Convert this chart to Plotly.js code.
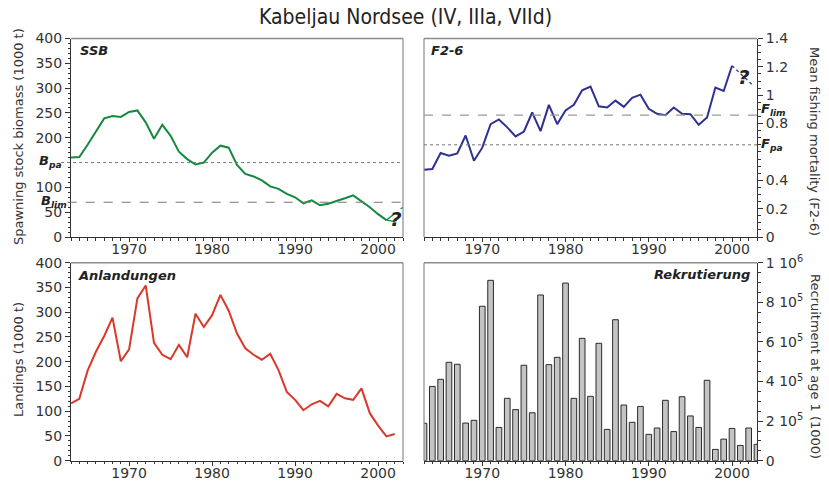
<!DOCTYPE html>
<html>
<head>
<meta charset="utf-8">
<script src="https://cdn.plot.ly/plotly-3.0.1.min.js"></script>
<style>html,body{margin:0;padding:0;background:#fff;}#chart{width:829px;height:482px;}</style>
</head>
<body>
<div id="chart"></div>
<script>
// ---------- DATA ----------
const ssbYears = [1963,1964,1965,1966,1967,1968,1969,1970,1971,1972,1973,1974,1975,1976,1977,1978,1979,1980,1981,1982,1983,1984,1985,1986,1987,1988,1989,1990,1991,1992,1993,1994,1995,1996,1997,1998,1999,2000,2001];
const ssbValues = [160,161,186,213,239,244,242,252,255,231,198,226,204,172,157,146,150,170,184,180,145,127,122,114,102,97,87,80,68,74,64,67,72,78,84,72,60,46,34];
const ssbProjYears = [2001,2003];
const ssbProjHigh = [34,60];
const ssbProjLow = [34,28];
const bpa = 150, blim = 70;

const fYears = [1963,1964,1965,1966,1967,1968,1969,1970,1971,1972,1973,1974,1975,1976,1977,1978,1979,1980,1981,1982,1983,1984,1985,1986,1987,1988,1989,1990,1991,1992,1993,1994,1995,1996,1997,1998,1999,2000];
const fValues = [0.475,0.48,0.592,0.574,0.59,0.716,0.538,0.63,0.796,0.829,0.773,0.709,0.744,0.878,0.747,0.932,0.796,0.892,0.932,1.035,1.061,0.922,0.913,0.962,0.918,0.981,1.004,0.904,0.869,0.859,0.913,0.869,0.866,0.791,0.843,1.054,1.03,1.208];
const fProjYears = [2000,2002.6];
const fProjValues = [1.208,1.065];
const flim = 0.86, fpa = 0.65;

const landYears = [1963,1964,1965,1966,1967,1968,1969,1970,1971,1972,1973,1974,1975,1976,1977,1978,1979,1980,1981,1982,1983,1984,1985,1986,1987,1988,1989,1990,1991,1992,1993,1994,1995,1996,1997,1998,1999,2000,2001,2002];
const landValues = [116,125,182,220,252,289,201,225,328,354,238,214,205,234,209,297,270,294,335,303,257,227,214,204,216,183,139,123,102,114,121,110,135,126,123,146,96,71,49,54];

const recYears = [1963,1964,1965,1966,1967,1968,1969,1970,1971,1972,1973,1974,1975,1976,1977,1978,1979,1980,1981,1982,1983,1984,1985,1986,1987,1988,1989,1990,1991,1992,1993,1994,1995,1996,1997,1998,1999,2000,2001,2002,2003];
const recValues = [189000,375000,411000,497000,487000,190000,204000,780000,911000,168000,315000,258000,482000,242000,837000,485000,522000,897000,315000,618000,325000,593000,158000,712000,281000,194000,274000,133000,165000,305000,147000,323000,226000,168000,406000,57000,109000,163000,77000,165000,83000];

const recTickVals = [0,200000,400000,600000,800000,1000000];
const recTickText = ['0','2 10<sup>5</sup>','4 10<sup>5</sup>','6 10<sup>5</sup>','8 10<sup>5</sup>','1 10<sup>6</sup>'];
const ssbTickVals = [0,50,100,200,250,300,350,400];
const landTickVals = [0,50,100,150,200,250,300,350,400];
const fTickVals = [0,0.2,0.4,0.8,1,1.2,1.4];
const fTickText = ['0','0.2','0.4','0.8','1','1.2','1.4'];
const xTickVals = [1970,1980,1990,2000];

// ---------- STYLE / LAYOUT ----------
const W = 829, H = 482;
const px = v => v / W, py = v => 1 - v / H;
const axFont = {family:'DejaVu Sans, Verdana, sans-serif', size:14, color:'#333'};
const green = '#14893f', blue = '#2e3192', red = '#d9382b';

function xax(dom) {
  return {domain: dom, range:[1963,2003], showline:true, linecolor:'#333', linewidth:1,
    ticks:'outside', ticklen:4, tickcolor:'#333', tickvals:xTickVals, showgrid:false, zeroline:false,
    ticklabelstandoff:-5,
    tickfont:axFont, minor:{dtick:1, tick0:1963, ticks:'outside', ticklen:2.5, tickcolor:'#333', showgrid:false}};
}
function yax(dom, range, side, tickvals, ticktext, minorD) {
  const a = {domain: dom, range: range, side: side, showline:true, linecolor:'#333', linewidth:1,
    ticks:'outside', ticklen:5, tickcolor:'#333', tickvals:tickvals, showgrid:false, zeroline:false,
    tickfont:axFont, minor:{dtick:minorD, tick0:0, ticks:'outside', ticklen:2.5, tickcolor:'#333', showgrid:false}};
  if (ticktext) a.ticktext = ticktext;
  return a;
}

const xL = [px(71), px(403)], xR = [px(424), px(757)];
const yT = [py(237), py(38.5)], yB = [py(460.7), py(262.7)];

const traces = [
  {x:ssbYears, y:ssbValues, xaxis:'x', yaxis:'y', mode:'lines', line:{color:green, width:2}},
  {x:ssbProjYears, y:ssbProjHigh, xaxis:'x', yaxis:'y', mode:'lines', line:{color:green, width:1.3, dash:'dash'}},
  {x:ssbProjYears, y:ssbProjLow, xaxis:'x', yaxis:'y', mode:'lines', line:{color:green, width:1.3, dash:'dash'}},
  {x:fYears, y:fValues, xaxis:'x2', yaxis:'y2', mode:'lines', line:{color:blue, width:2}},
  {x:fProjYears, y:fProjValues, xaxis:'x2', yaxis:'y2', mode:'lines', line:{color:blue, width:1.3, dash:'dot'}},
  {x:landYears, y:landValues, xaxis:'x3', yaxis:'y3', mode:'lines', line:{color:red, width:2}},
  {x:recYears, y:recValues, xaxis:'x4', yaxis:'y4', type:'bar', width:0.68,
    marker:{color:'#c4c4c4', line:{color:'#2a2a2a', width:1}}}
];

const frame = '#8c8c8c';
function frameShapes(xr, yr, farSide) {
  return [
    {type:'line', xref:xr+' domain', yref:yr+' domain', x0:0, x1:1, y0:1, y1:1, line:{color:frame, width:1.5}},
    {type:'line', xref:xr+' domain', yref:yr+' domain', x0:farSide, x1:farSide, y0:0, y1:1, line:{color:frame, width:1.2}}
  ];
}

const shapes = [].concat(
  frameShapes('x','y',1), frameShapes('x2','y2',0), frameShapes('x3','y3',1), frameShapes('x4','y4',0),
  [
    {type:'line', xref:'x domain', yref:'y', x0:-0.03, x1:1, y0:bpa, y1:bpa, line:{color:'#777', width:1, dash:'dot'}},
    {type:'line', xref:'x domain', yref:'y', x0:-0.01, x1:1, y0:blim, y1:blim, line:{color:'#777', width:1, dash:'dash'}},
    {type:'line', xref:'x2 domain', yref:'y2', x0:0, x1:1.01, y0:flim, y1:flim, line:{color:'#999', width:1.2, dash:'dash'}},
    {type:'line', xref:'x2 domain', yref:'y2', x0:0, x1:1.01, y0:fpa, y1:fpa, line:{color:'#777', width:1, dash:'dot'}}
  ]
);

const lblFont = {family:'DejaVu Sans, Verdana, sans-serif', size:13, color:'#222'};
const refFont = {family:'DejaVu Sans, Verdana, sans-serif', size:13, color:'#222'};
const titleFont = {family:'DejaVu Sans, Verdana, sans-serif', size:13, color:'#333'};
function ann(o) { return Object.assign({showarrow:false, xanchor:'center', yanchor:'middle'}, o); }
const annotations = [
  ann({text:'Kabeljau Nordsee (IV, IIIa, VIId)', xref:'paper', yref:'paper', x:px(405), y:py(17),
    font:{family:'Liberation Sans Narrow, DejaVu Sans Condensed, sans-serif', size:21, color:'#222'}}),
  ann({text:'<b><i>SSB</i></b>', xref:'paper', yref:'paper', x:px(78), y:py(51), xanchor:'left', font:lblFont}),
  ann({text:'<b><i>F2-6</i></b>', xref:'paper', yref:'paper', x:px(429), y:py(51), xanchor:'left', font:lblFont}),
  ann({text:'<b><i>Anlandungen</i></b>', xref:'paper', yref:'paper', x:px(76), y:py(275), xanchor:'left', font:lblFont}),
  ann({text:'<b><i>Rekrutierung</i></b>', xref:'paper', yref:'paper', x:px(752), y:py(274), xanchor:'right', font:lblFont}),
  ann({text:'<b><i>B<sub>pa</sub></i></b>', xref:'paper', yref:'y', x:px(64), y:bpa, yshift:1, xanchor:'right', font:refFont}),
  ann({text:'<b><i>B<sub>lim</sub></i></b>', xref:'paper', yref:'y', x:px(69), y:blim, yshift:1, xanchor:'right', font:refFont}),
  ann({text:'<b><i>F<sub>lim</sub></i></b>', xref:'paper', yref:'y2', x:px(759), y:flim, yshift:6, xanchor:'left', font:refFont}),
  ann({text:'<b><i>F<sub>pa</sub></i></b>', xref:'paper', yref:'y2', x:px(759), y:fpa, yshift:0, xanchor:'left', font:refFont}),
  ann({text:'<b><i>?</i></b>', xref:'paper', yref:'paper', x:px(396), y:py(219), font:{family:'DejaVu Sans, sans-serif', size:20, color:'#222'}}),
  ann({text:'<b><i>?</i></b>', xref:'paper', yref:'paper', x:px(744), y:py(77), font:{family:'DejaVu Sans, sans-serif', size:20, color:'#222'}}),
  ann({text:'Spawning stock biomass (1000 t)', xref:'paper', yref:'paper', x:px(18), y:py(137), textangle:-90, font:titleFont}),
  ann({text:'Landings (1000 t)', xref:'paper', yref:'paper', x:px(18), y:py(360), textangle:-90, font:titleFont}),
  ann({text:'Mean fishing mortality (F2-6)', xref:'paper', yref:'paper', x:px(815), y:py(141), textangle:90, font:titleFont}),
  ann({text:'Recruitment at age 1 (1000)', xref:'paper', yref:'paper', x:px(816), y:py(366), textangle:90, font:titleFont})
];

const layout = {
  width:W, height:H, margin:{l:0,r:0,t:0,b:0}, paper_bgcolor:'#fff', plot_bgcolor:'#fff',
  showlegend:false, bargap:0.3,
  xaxis: Object.assign(xax(xL), {anchor:'y'}),
  yaxis: Object.assign(yax(yT,[0,400],'left',ssbTickVals,null,10), {anchor:'x'}),
  xaxis2: Object.assign(xax(xR), {anchor:'y2'}),
  yaxis2: Object.assign(yax(yT,[0,1.4],'right',fTickVals,fTickText,0.05), {anchor:'x2'}),
  xaxis3: Object.assign(xax(xL), {anchor:'y3'}),
  yaxis3: Object.assign(yax(yB,[0,400],'left',landTickVals,null,10), {anchor:'x3'}),
  xaxis4: Object.assign(xax(xR), {anchor:'y4'}),
  yaxis4: Object.assign(yax(yB,[0,1000000],'right',recTickVals,recTickText,50000), {anchor:'x4'}),
  shapes: shapes, annotations: annotations
};

Plotly.newPlot('chart', traces, layout, {staticPlot:true, displayModeBar:false});
</script>
</body>
</html>
